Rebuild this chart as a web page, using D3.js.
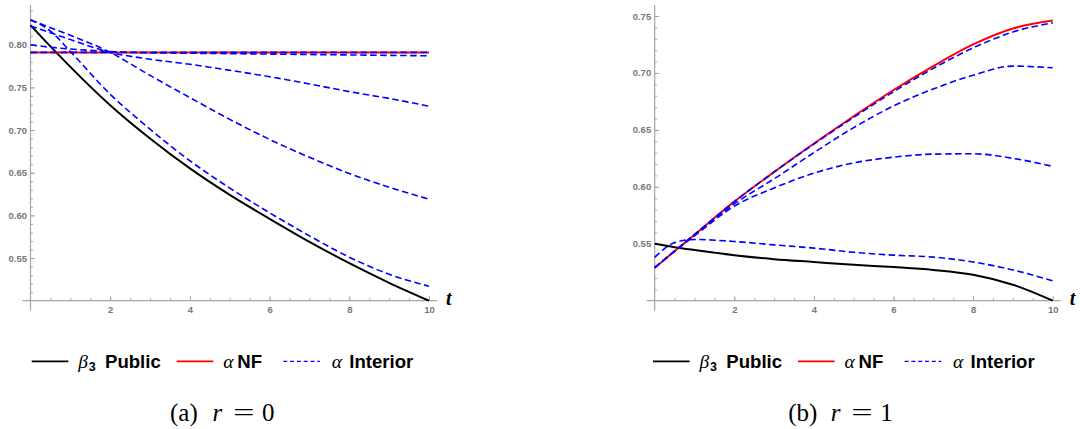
<!DOCTYPE html>
<html>
<head>
<meta charset="utf-8">
<script src="https://d3js.org/d3.v7.min.js"></script>
<style>
  body { margin: 0; background: #fff; }
  svg { display: block; }
</style>
</head>
<body>
<script>
var tGrid = [0, 0.5, 1, 2, 3, 4, 5, 6, 7, 8, 9, 10];

// (a) r = 0
var publicA   = [0.823, 0.798, 0.774, 0.729, 0.690, 0.655, 0.624, 0.596, 0.569, 0.544, 0.521, 0.500];
var nfA       = [0.791, 0.791, 0.791, 0.791, 0.791, 0.791, 0.791, 0.791, 0.791, 0.791, 0.791, 0.791];
var interiorA = [
  [0.791, 0.791, 0.791, 0.791, 0.791, 0.791, 0.791, 0.791, 0.791, 0.791, 0.791, 0.791],
  [0.800, 0.797, 0.795, 0.792, 0.7905, 0.790, 0.7895, 0.789, 0.7885, 0.788, 0.7875, 0.787],
  [0.822, 0.814, 0.806, 0.791, 0.783, 0.777, 0.770, 0.7625, 0.754, 0.745, 0.737, 0.728],
  [0.829, 0.820, 0.811, 0.791, 0.764, 0.738, 0.7125, 0.689, 0.668, 0.649, 0.633, 0.619],
  [0.829, 0.816, 0.792, 0.742, 0.701, 0.664, 0.632, 0.603, 0.576, 0.551, 0.531, 0.517]
];

// (b) r = 1
var publicB   = [0.550, 0.547, 0.5445, 0.540, 0.5365, 0.534, 0.5315, 0.5295, 0.527, 0.5228, 0.514, 0.500];
var nfB       = [0.529, 0.5435, 0.558, 0.587, 0.613, 0.638, 0.662, 0.685, 0.706, 0.725, 0.739, 0.746];
var interiorB = [
  [0.529, 0.5435, 0.558, 0.587, 0.613, 0.6375, 0.661, 0.6835, 0.704, 0.722, 0.736, 0.744],
  [0.529, 0.5435, 0.558, 0.585, 0.607, 0.630, 0.652, 0.671, 0.686, 0.698, 0.706, 0.7045],
  [0.529, 0.5435, 0.557, 0.583, 0.599, 0.612, 0.621, 0.626, 0.6287, 0.629, 0.625, 0.618],
  [0.538, 0.551, 0.5538, 0.552, 0.549, 0.5462, 0.5425, 0.540, 0.5383, 0.534, 0.527, 0.5175]
];

var xTicks  = [2, 4, 6, 8, 10];
var yTicksA = [0.55, 0.60, 0.65, 0.70, 0.75, 0.80];
var yTicksB = [0.55, 0.60, 0.65, 0.70, 0.75];
var legendNames = [["\u03b2", "3", "Public"], ["\u03b1", null, "NF"], ["\u03b1", null, "Interior"]];
var captions = [["(a)", "0"], ["(b)", "1"]];

var width = 1080, height = 429;
var svg = d3.select("body").append("svg")
    .attr("width", width)
    .attr("height", height);

var axisGray = "#a6a6a6", labelGray = "#777";
var sans = "'Liberation Sans', Arial, sans-serif",
    serif = "'Liberation Serif', 'Times New Roman', serif";

function drawPanel(p) {
  var x = d3.scaleLinear().domain([0, 10]).range([p.left, p.right]);
  var y = d3.scaleLinear().domain([0.5, p.yRef]).range([300.7, p.yRefPx]);
  var g = svg.append("g");

  // minor ticks
  var yMinor = d3.range(51, 90).map(function(d) { return d / 100; })
      .filter(function(d) { return y(d) >= 6; });
  g.append("g").attr("transform", "translate(" + p.left + ",0)")
      .call(d3.axisLeft(y).tickValues(yMinor).tickSize(-2.5).tickFormat(""));
  g.append("g").attr("transform", "translate(0," + y(0.5) + ")")
      .call(d3.axisBottom(x).tickValues(d3.range(1, 20).map(function(d) { return d / 2; }))
        .tickSize(-2.5).tickFormat(""));

  // major ticks with labels
  g.append("g").attr("transform", "translate(" + p.left + ",0)")
      .call(d3.axisLeft(y).tickValues(p.yTicks).tickSize(-4.5).tickPadding(3.5).tickFormat(d3.format(".2f")));
  g.append("g").attr("transform", "translate(0," + y(0.5) + ")")
      .call(d3.axisBottom(x).tickValues(xTicks).tickSize(-4.5).tickPadding(6).tickFormat(d3.format("d")));

  g.selectAll(".domain").remove();
  g.selectAll(".tick line").attr("stroke", axisGray);
  g.selectAll(".tick text")
      .attr("fill", labelGray)
      .style("font-family", sans)
      .style("font-size", "9.5px")
      .style("font-weight", "bold");

  // axis lines crossing at the origin
  g.append("line")
      .attr("x1", p.left - 8).attr("x2", p.right + 8)
      .attr("y1", y(0.5)).attr("y2", y(0.5))
      .attr("stroke", axisGray).attr("stroke-width", 1.2);
  g.append("line")
      .attr("x1", p.left).attr("x2", p.left)
      .attr("y1", 5).attr("y2", y(0.5) + 10)
      .attr("stroke", axisGray).attr("stroke-width", 1.2);

  g.append("text")
      .attr("x", p.right + 17).attr("y", 305)
      .style("font-family", serif)
      .style("font-size", "20px")
      .style("font-weight", "bold")
      .style("font-style", "italic")
      .text("t");

  var line = d3.line()
      .x(function(d, i) { return x(tGrid[i]); })
      .y(function(d) { return y(d); })
      .curve(d3.curveMonotoneX);

  g.append("path").attr("d", line(p.pub))
      .attr("fill", "none").attr("stroke", "#000").attr("stroke-width", 2);
  g.append("path").attr("d", line(p.nf))
      .attr("fill", "none").attr("stroke", "#ff0000").attr("stroke-width", 2);
  g.selectAll(".interior").data(p.interior).enter().append("path")
      .attr("class", "interior")
      .attr("d", line)
      .attr("fill", "none").attr("stroke", "#0000ff").attr("stroke-width", 1.6)
      .attr("stroke-dasharray", "6.5,3.5");

  // legend: line start, greek symbol offset, word offset
  var lg = svg.append("g").attr("transform", "translate(" + p.legendX + ",361.3)");
  var styles = [
    { color: "#000", dash: null, at: 0, greekAt: 46.6, wordAt: 73.3 },
    { color: "#ff0000", dash: null, at: 145, greekAt: 46.6, wordAt: 60.6 },
    { color: "#0000ff", dash: "4,2.8", at: 251.6, greekAt: 48.4, wordAt: 66 }
  ];
  styles.forEach(function(s, i) {
    var name = legendNames[i];
    lg.append("line")
        .attr("x1", s.at).attr("x2", s.at + 36.6)
        .attr("y1", 0).attr("y2", 0)
        .attr("stroke", s.color)
        .attr("stroke-width", s.dash ? 1.3 : 1.8)
        .attr("stroke-dasharray", s.dash);
    var gt = lg.append("text").attr("x", s.at + s.greekAt).attr("y", 6.4)
        .style("font-family", serif)
        .style("font-style", "italic")
        .style("font-size", "19.5px")
        .text(name[0]);
    if (name[1]) {
      lg.append("text").attr("x", s.at + s.greekAt + 10.5).attr("y", 10)
          .style("font-family", sans)
          .style("font-weight", "bold")
          .style("font-size", "12.5px")
          .text(name[1]);
    }
    lg.append("text").attr("x", s.at + s.wordAt).attr("y", 6.4)
        .style("font-family", sans)
        .style("font-size", "18.6px")
        .style("font-weight", "bold")
        .text(name[2]);
  });

  // caption
  var capStyle = function(t) {
    return t.attr("y", 421)
      .style("font-family", "'Liberation Serif', 'DejaVu Serif', serif")
      .style("font-size", "25px");
  };
  capStyle(svg.append("text").attr("x", p.capX)).text(p.caption[0]);
  capStyle(svg.append("text").attr("x", p.capX + 42.5)).style("font-style", "italic").text("r");
  capStyle(svg.append("text").attr("x", p.capX + 63))
      .attr("textLength", 21.5).attr("lengthAdjust", "spacingAndGlyphs").text("=");
  capStyle(svg.append("text").attr("x", p.capX + 92)).text(p.caption[1]);
}

drawPanel({
  left: 30.5, right: 429, yRef: 0.80, yRefPx: 44.7, yTicks: yTicksA,
  pub: publicA, nf: nfA, interior: interiorA,
  legendX: 31.7, capX: 170, caption: captions[0]
});
drawPanel({
  left: 654.7, right: 1052.7, yRef: 0.75, yRefPx: 16, yTicks: yTicksB,
  pub: publicB, nf: nfB, interior: interiorB,
  legendX: 653, capX: 788.3, caption: captions[1]
});
</script>
</body>
</html>
